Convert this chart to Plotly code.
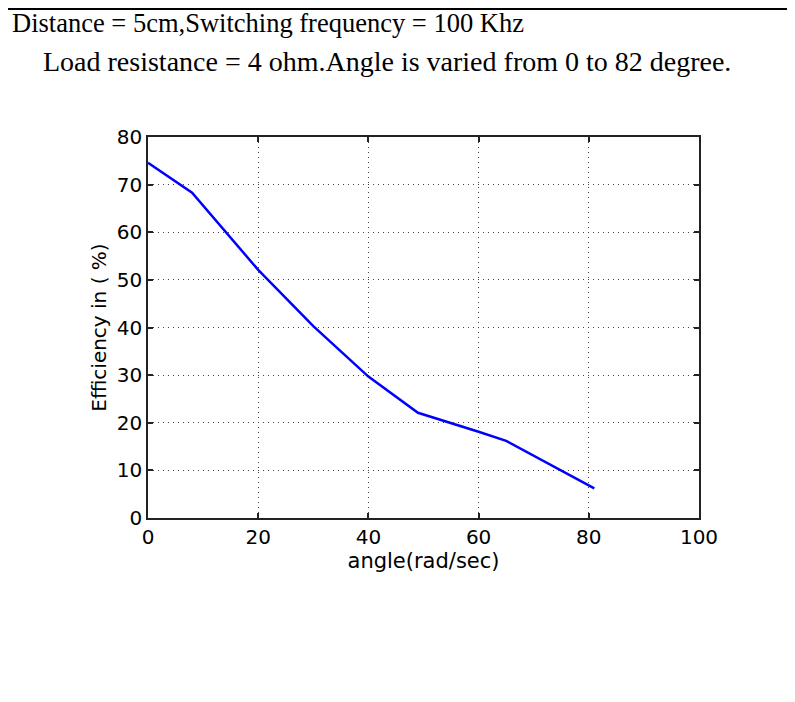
import plotly.graph_objects as go

# Data
angle = [0, 8, 20, 30, 40, 49, 60, 65, 81]
efficiency = [74.6, 68.3, 52.1, 40.3, 29.7, 22.1, 18.1, 16.2, 6.2]

x_ticks = [0, 20, 40, 60, 80, 100]
y_ticks = [0, 10, 20, 30, 40, 50, 60, 70, 80]

header_line1 = "Distance = 5cm,Switching frequency = 100 Khz"
header_line2 = "Load resistance = 4 ohm.Angle is varied from 0 to 82 degree."

# the page body has an 8px margin, so the figure is sized to fill the rest
OFF = 8
W, H = 795 - OFF, 702 - OFF
L, R, T, B = 148 - OFF, 96, 137 - OFF, 184
pw, ph = W - L - R, H - T - B

def px(xpix):
    return (xpix - OFF - L) / pw

def py(ypix):
    return (H - B - (ypix - OFF)) / ph

fig = go.Figure()
fig.add_trace(go.Scatter(x=angle, y=efficiency, mode="lines",
                         line=dict(color="#0000FF", width=2.5),
                         showlegend=False))

sans = "DejaVu Sans, Arial"
axis_common = dict(
    showline=True, linecolor="#222222", linewidth=1.5, mirror="ticks",
    ticks="inside", ticklen=5, tickcolor="#222222", tickwidth=1.5,
    showgrid=True, gridcolor="#444444", gridwidth=1, griddash="1px,4px",
    zeroline=False,
    tickfont=dict(family=sans, size=20, color="black"),
)

fig.update_xaxes(range=[0, 100], tickvals=x_ticks, ticktext=[str(v) for v in x_ticks],
                 title=dict(text="angle(rad/sec)", standoff=4,
                            font=dict(family=sans, size=21, color="black")),
                 **axis_common)
fig.update_yaxes(range=[0, 80], tickvals=y_ticks, ticktext=[str(v) for v in y_ticks],
                 title=dict(text="Efficiency in ( %)", standoff=5,
                            font=dict(family=sans, size=20, color="black")),
                 **axis_common)

# top rule of the page
fig.add_shape(type="rect", xref="paper", yref="paper",
              x0=px(8), x1=px(787), y0=py(10), y1=py(8),
              fillcolor="black", line=dict(width=0), layer="above")

serif = "Liberation Serif, Times New Roman"
fig.add_annotation(text=header_line1, xref="paper", yref="paper",
                   x=px(10), y=py(23), xanchor="left", yanchor="middle",
                   showarrow=False,
                   font=dict(family=serif, size=26.5, color="black"))
fig.add_annotation(text=header_line2, xref="paper", yref="paper",
                   x=px(41), y=py(62), xanchor="left", yanchor="middle",
                   showarrow=False,
                   font=dict(family=serif, size=28, color="black"))

fig.update_layout(width=W, height=H, margin=dict(l=L, r=R, t=T, b=B),
                  paper_bgcolor="white", plot_bgcolor="white")

fig.write_html("out.html", config={"displayModeBar": False})
